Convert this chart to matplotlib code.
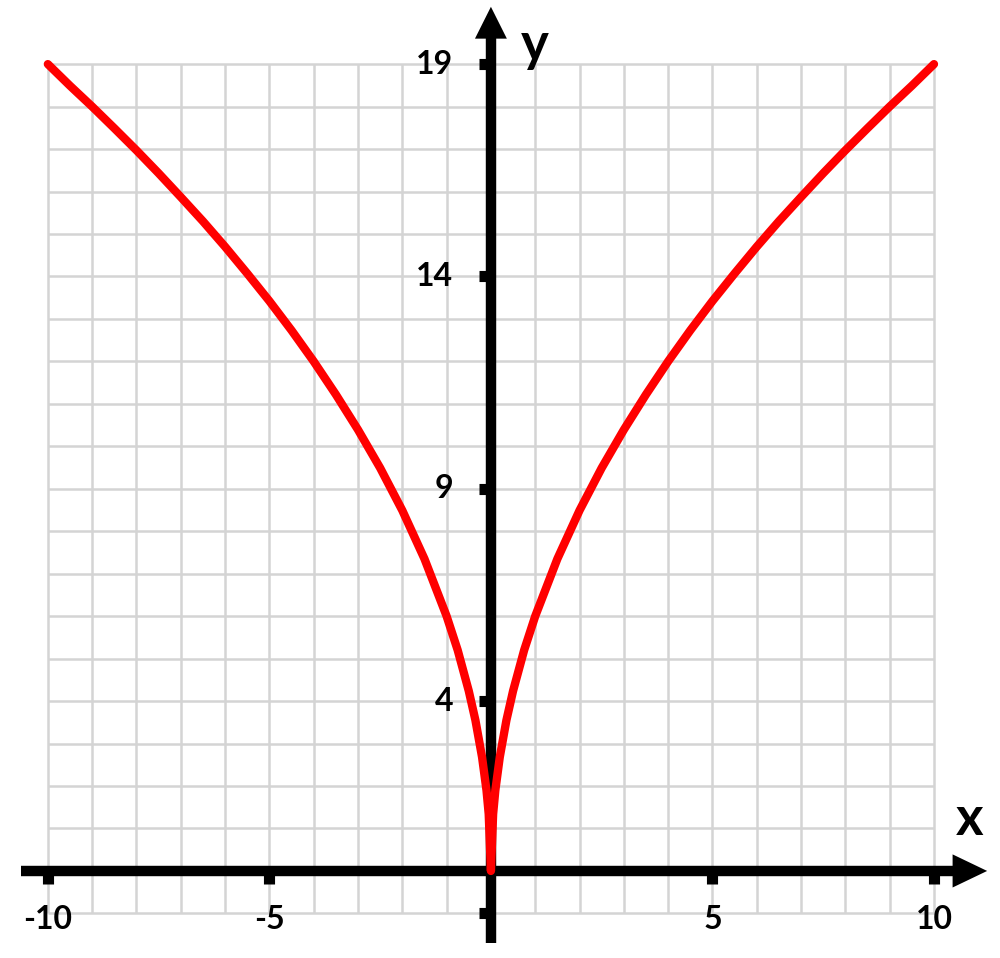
import matplotlib
matplotlib.use("Agg")
import matplotlib.pyplot as plt

# Curve values
x_vals = [-10, -9.5, -9, -8.5, -8, -7.5, -7, -6.5, -6, -5.5, -5, -4.5, -4, -3.5, -3, -2.5, -2, -1.5, -1,
          -0.75, -0.5, -0.35, -0.2, -0.1, -0.05,
          0,
          0.05, 0.1, 0.2, 0.35, 0.5, 0.75,
          1, 1.5, 2, 2.5, 3, 3.5, 4, 4.5, 5, 5.5, 6, 6.5, 7, 7.5, 8, 8.5, 9, 9.5, 10]
y_vals = [19.0, 18.49, 18.0, 17.49, 16.97, 16.43, 15.87, 15.3, 14.7, 14.07, 13.42, 12.73, 12.0, 11.22, 10.39,
          9.49, 8.49, 7.35, 6.0,
          5.2, 4.24, 3.55, 2.68, 1.9, 1.34,
          0,
          1.34, 1.9, 2.68, 3.55, 4.24, 5.2,
          6.0, 7.35, 8.49, 9.49, 10.39, 11.22, 12.0, 12.73, 13.42, 14.07, 14.7, 15.3, 15.87, 16.43, 16.97,
          17.49, 18.0, 18.49, 19.0]

# Axis ticks and labels
x_ticks = [-10, -5, 5, 10]
x_tick_labels = ["-10", "-5", "5", "10"]
y_ticks = [-1, 4, 9, 14, 19]
y_tick_labels = ["", "4", "9", "14", "19"]

# Grid extent
grid_x = list(range(-10, 11))
grid_y = list(range(-1, 20))

FONT = "Lato"

fig = plt.figure(figsize=(10, 9.58), dpi=100)
ax = fig.add_axes([0, 0, 1, 1])
ax.set_xlim(-11.08, 11.49)
ax.set_ylim(-2.05, 20.51)
ax.axis("off")

# light grey grid
ax.vlines(grid_x, grid_y[0], grid_y[-1], color="#d4d4d4", lw=1.8, zorder=1)
ax.hlines(grid_y, grid_x[0], grid_x[-1], color="#d4d4d4", lw=1.8, zorder=1)

# axes with arrow heads
ax.plot([-10.6, 10.5], [0, 0], color="black", lw=7.5, solid_capstyle="butt", zorder=3)
ax.fill([10.42, 11.2, 10.42], [0.39, 0, -0.39], color="black", lw=0, zorder=3)
ax.plot([0, 0], [-1.7, 19.7], color="black", lw=7.5, solid_capstyle="butt", zorder=3)
ax.fill([-0.36, 0, 0.36], [19.6, 20.35, 19.6], color="black", lw=0, zorder=3)

# small square tick marks
ax.vlines(x_ticks, 0, -0.3, color="black", lw=8, zorder=3)
ax.hlines(y_ticks, 0, -0.28, color="black", lw=8, zorder=3)

for xt, lab in zip(x_ticks, x_tick_labels):
    ax.text(xt, -1.15, lab, ha="center", va="center", fontsize=23, fontweight="bold", family=FONT)
for yt, lab in zip(y_ticks, y_tick_labels):
    ax.text(-0.85, yt, lab, ha="right", va="center", fontsize=23, fontweight="bold", family=FONT)

ax.text(1.0, 19.45, "y", ha="center", va="center", fontsize=38, fontweight="bold", family=FONT)
ax.text(10.8, 1.2, "x", ha="center", va="center", fontsize=38, fontweight="bold", family=FONT)

# the red curve
ax.plot(x_vals, y_vals, color="#ff0000", lw=6, solid_capstyle="round",
        solid_joinstyle="round", zorder=4)

fig.savefig("out.png", dpi=100)
